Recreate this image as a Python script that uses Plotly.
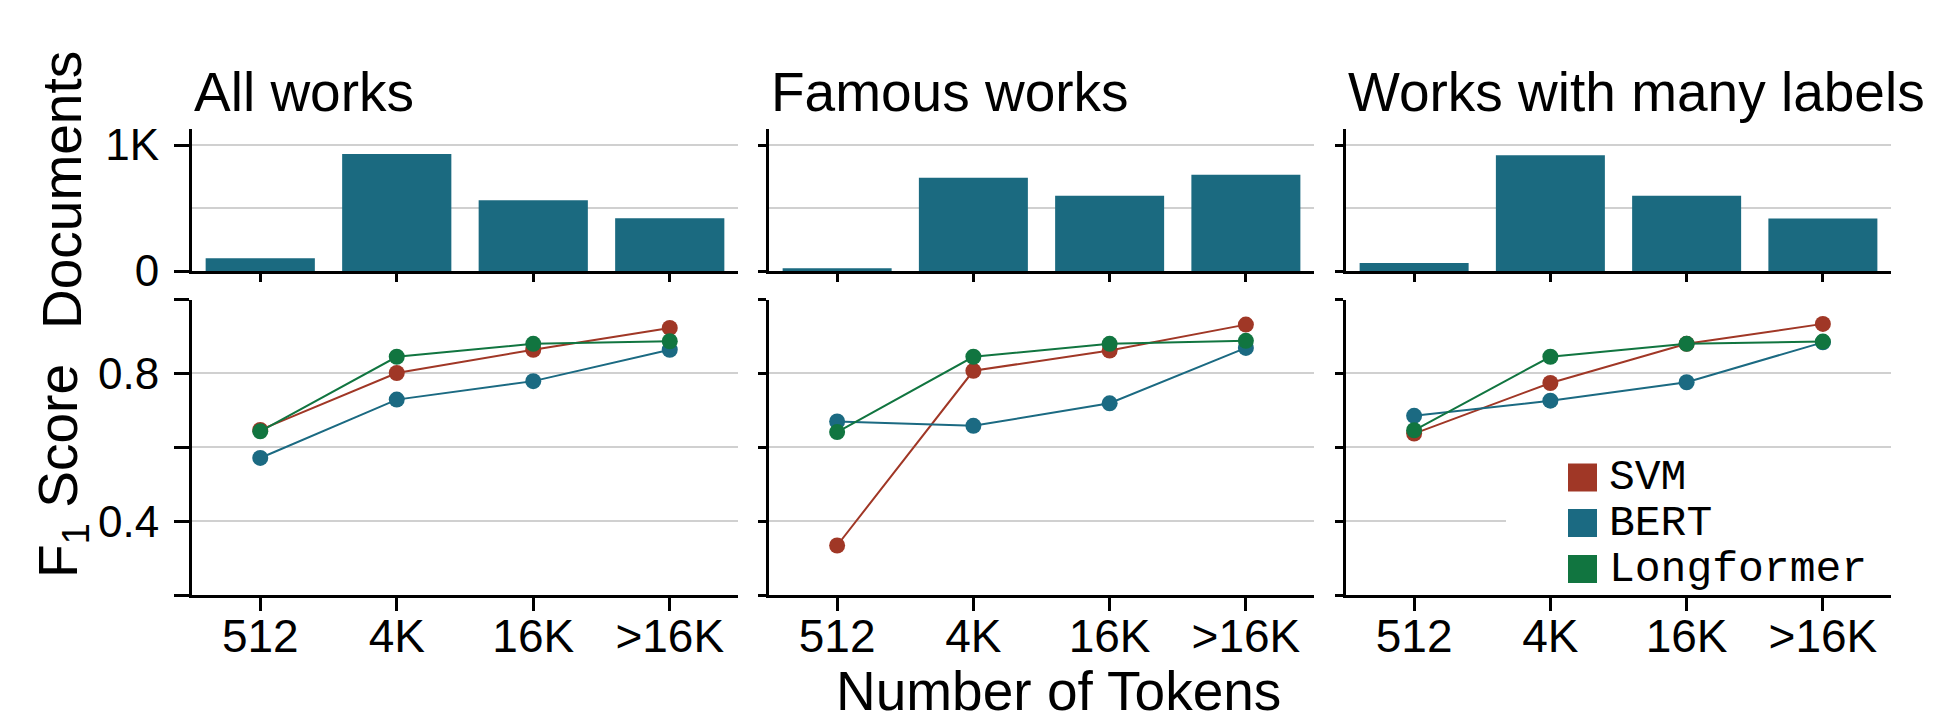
import plotly.graph_objects as go

W, H = 1940, 717

# ---- data -------------------------------------------------------------
categories = ["512", "4K", "16K", ">16K"]
panel_titles = ["All works", "Famous works", "Works with many labels"]
models = ["SVM", "BERT", "Longformer"]

docs_all = [101, 929, 562, 419]
docs_famous = [21, 740, 597, 763]
docs_many = [63, 918, 597, 416]

svm_all = [0.647, 0.801, 0.864, 0.923]
bert_all = [0.571, 0.729, 0.779, 0.864]
long_all = [0.643, 0.845, 0.880, 0.887]

svm_famous = [0.334, 0.807, 0.862, 0.932]
bert_famous = [0.670, 0.658, 0.719, 0.869]
long_famous = [0.641, 0.845, 0.880, 0.888]

svm_many = [0.637, 0.774, 0.880, 0.934]
bert_many = [0.685, 0.726, 0.776, 0.884]
long_many = [0.646, 0.845, 0.880, 0.886]

doc_counts = [docs_all, docs_famous, docs_many]
f1_scores = [
    [svm_all, bert_all, long_all],
    [svm_famous, bert_famous, long_famous],
    [svm_many, bert_many, long_many],
]

# ---- style ------------------------------------------------------------
BAR_COLOR = "#1b6a80"
MODEL_COLORS = ["#a03726", "#1b6a82", "#117540"]
GRID = "#d0d0d0"
SANS = "Liberation Sans, Arial, Helvetica, sans-serif"
MONO = "Liberation Mono, DejaVu Sans Mono, monospace"


def px_x(x):
    return x / W


def px_y(y):
    return 1 - y / H


# pixel extents of the three columns and the two rows
cols = [(192, 738), (769, 1314), (1346, 1891)]
top_row = (129, 271)
bottom_row = (299.5, 595)

xpos = list(range(len(categories)))

fig = go.Figure()
layout = dict(
    width=W,
    height=H,
    autosize=False,
    margin=dict(l=0, r=0, t=0, b=0, pad=0, autoexpand=False),
    paper_bgcolor="white",
    plot_bgcolor="white",
    showlegend=False,
    font=dict(family=SANS, color="black"),
)

for i in range(3):
    top_id = i + 1
    bot_id = i + 4
    xt, yt = f"x{top_id}", f"y{top_id}"
    xb, yb = f"x{bot_id}", f"y{bot_id}"

    fig.add_trace(go.Bar(
        x=xpos, y=doc_counts[i], width=0.8,
        marker=dict(color=BAR_COLOR, line=dict(width=0)),
        xaxis=xt, yaxis=yt,
    ))
    for m, name in enumerate(models):
        fig.add_trace(go.Scatter(
            x=xpos, y=f1_scores[i][m], name=name, mode="lines+markers",
            line=dict(color=MODEL_COLORS[m], width=2),
            marker=dict(color=MODEL_COLORS[m], size=16, line=dict(width=0)),
            xaxis=xb, yaxis=yb, cliponaxis=False,
        ))

    x0, x1 = cols[i]
    dom_x = [px_x(x0), px_x(x1)]
    ylen = 15 if i == 0 else 8

    common_x = dict(
        domain=dom_x, range=[-0.5, 3.5], showline=True, linecolor="black",
        linewidth=3, ticks="outside", tickcolor="black", tickwidth=2.5,
        tickvals=xpos, showgrid=False, zeroline=False, fixedrange=True,
        automargin=False,
    )
    layout[f"xaxis{top_id}"] = dict(
        common_x, anchor=yt, ticklen=8, showticklabels=False,
    )
    layout[f"xaxis{bot_id}"] = dict(
        common_x, anchor=yb, ticklen=13, ticktext=categories,
        tickfont=dict(size=46, family=SANS), ticklabelstandoff=-14,
    )

    common_y = dict(
        showline=True, linecolor="black", linewidth=3, ticks="outside",
        tickcolor="black", tickwidth=3, ticklen=ylen, showgrid=True,
        gridcolor=GRID, gridwidth=1.6, zeroline=False, fixedrange=True,
        showticklabels=(i == 0), tickfont=dict(size=44, family=SANS),
        ticklabelstandoff=6, automargin=False,
    )
    layout[f"yaxis{top_id}"] = dict(
        common_y, anchor=xt,
        domain=[px_y(top_row[1]), px_y(top_row[0])],
        range=[0, 1127], tickvals=[0, 1000], ticktext=["0", "1K"],
        minor=dict(tickvals=[500], showgrid=True, gridcolor=GRID,
                   gridwidth=1.6, ticks=""),
    )
    layout[f"yaxis{bot_id}"] = dict(
        common_y, anchor=xb,
        domain=[px_y(bottom_row[1]), px_y(bottom_row[0])],
        range=[0.2, 1.0], tickvals=[0.2, 0.4, 0.6, 0.8, 1.0],
        ticktext=[" ", "0.4", " ", "0.8", " "],
    )

annotations = []
for i, title in enumerate(panel_titles):
    annotations.append(dict(
        text=title, x=px_x(cols[i][0]), y=px_y(92), xref="paper", yref="paper",
        xanchor="left", yanchor="middle", showarrow=False,
        font=dict(size=55, family=SANS, color="black"),
    ))

annotations.append(dict(
    text="Documents", x=px_x(62), y=px_y(190), xref="paper", yref="paper",
    textangle=-90, xanchor="center", yanchor="middle", showarrow=False,
    font=dict(size=55, family=SANS, color="black"),
))
annotations.append(dict(
    text="F<sub>1</sub> Score", x=px_x(62), y=px_y(471), xref="paper",
    yref="paper", textangle=-90, xanchor="center", yanchor="middle",
    showarrow=False, font=dict(size=55, family=SANS, color="black"),
))
annotations.append(dict(
    text="Number of Tokens", x=px_x(1058), y=px_y(724), xref="paper",
    yref="paper", xanchor="center", yanchor="bottom", showarrow=False,
    font=dict(size=55, family=SANS, color="black"),
))

# legend drawn inside the third F1 panel
shapes = [dict(
    type="rect", xref="paper", yref="paper", layer="above",
    x0=px_x(1506), x1=px_x(1893), y0=px_y(590), y1=px_y(453),
    fillcolor="white", line=dict(width=0),
)]
legend_rows = [477.5, 523, 569]
for m, name in enumerate(models):
    yc = legend_rows[m]
    shapes.append(dict(
        type="rect", xref="paper", yref="paper", layer="above",
        x0=px_x(1568), x1=px_x(1597), y0=px_y(yc + 14), y1=px_y(yc - 14),
        fillcolor=MODEL_COLORS[m], line=dict(width=0),
    ))
    annotations.append(dict(
        text=name, x=px_x(1607), y=px_y(yc), xref="paper", yref="paper",
        xanchor="left", yanchor="middle", showarrow=False,
        font=dict(size=43, family=MONO, color="black"),
    ))

layout["annotations"] = annotations
layout["shapes"] = shapes
fig.update_layout(**layout)

fig.write_html("out.html")
